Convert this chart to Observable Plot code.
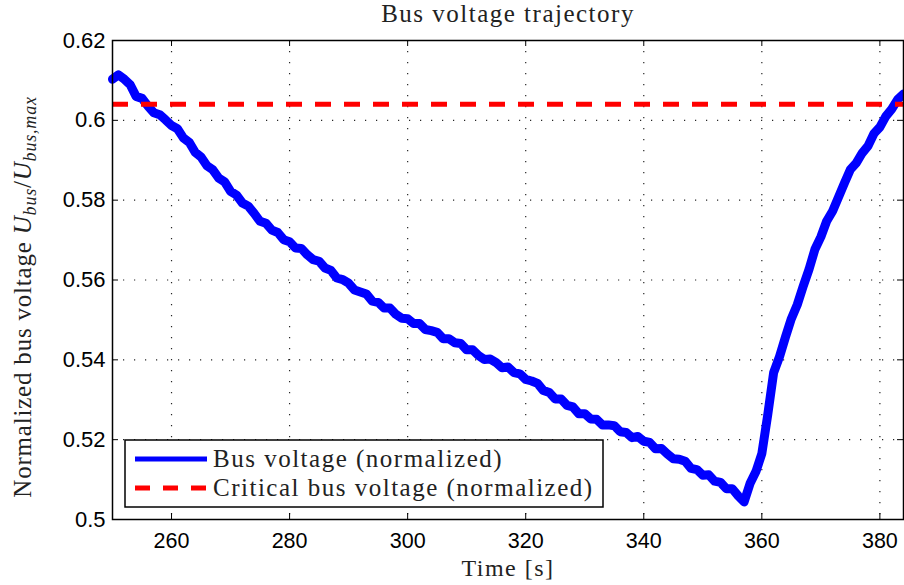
<!DOCTYPE html>
<html><head><meta charset="utf-8">
<script src="https://cdn.jsdelivr.net/npm/d3@7"></script>
<script src="https://cdn.jsdelivr.net/npm/@observablehq/plot@0.6"></script>
<style>html,body{margin:0;padding:0;background:#fff}svg{display:block}</style>
</head><body><div id="chart"></div>
<script>
const time = [250,251,252,253,254,255,256,257,258,259,260,261,262,263,264,265,266,267,268,269,
270,271,272,273,274,275,276,277,278,279,280,281,282,283,284,285,286,287,288,289,
290,291,292,293,294,295,296,297,298,299,300,301,302,303,304,305,306,307,308,309,
310,311,312,313,314,315,316,317,318,319,320,321,322,323,324,325,326,327,328,329,
330,331,332,333,334,335,336,337,338,339,340,341,342,343,344,345,346,347,348,349,
350,351,352,353,354,355,356,357,358,359,360,361,362,363,364,365,366,367,368,369,
370,371,372,373,374,375,376,377,378,379,380,381,382,383,384];
const voltage = [0.6103,0.6114,0.6103,0.6089,0.6060,0.6055,0.6036,0.6019,0.6014,0.6001,
0.5987,0.5979,0.5956,0.5945,0.5920,0.5908,0.5886,0.5876,0.5855,0.5846,
0.5822,0.5813,0.5793,0.5785,0.5767,0.5747,0.5742,0.5725,0.5719,0.5701,
0.5696,0.5680,0.5679,0.5663,0.5651,0.5647,0.5630,0.5624,0.5605,0.5601,
0.5592,0.5575,0.5570,0.5565,0.5547,0.5544,0.5530,0.5530,0.5514,0.5504,
0.5503,0.5491,0.5491,0.5476,0.5473,0.5469,0.5453,0.5453,0.5443,0.5441,
0.5425,0.5425,0.5411,0.5401,0.5402,0.5393,0.5380,0.5382,0.5368,0.5365,
0.5351,0.5347,0.5341,0.5323,0.5318,0.5302,0.5302,0.5286,0.5282,0.5265,
0.5265,0.5252,0.5251,0.5237,0.5237,0.5235,0.5220,0.5218,0.5205,0.5208,
0.5196,0.5193,0.5177,0.5178,0.5164,0.5152,0.5151,0.5146,0.5128,0.5125,
0.5111,0.5112,0.5096,0.5093,0.5077,0.5077,0.5059,0.5044,0.5090,0.5120,
0.5165,0.5262,0.5368,0.5408,0.5457,0.5503,0.5538,0.5584,0.5627,0.5677,
0.5708,0.5748,0.5773,0.5808,0.5843,0.5877,0.5893,0.5918,0.5936,0.5967,
0.5983,0.6010,0.6028,0.6052,0.6066];
const criticalVoltage = [0.604];
const xTicks = [260,280,300,320,340,360,380];
const yTicks = [0.5,0.52,0.54,0.56,0.58,0.6,0.62];
const yTickLabels = ["0.5","0.52","0.54","0.56","0.58","0.6","0.62"];
const titleText = "Bus voltage trajectory";
const xLabelText = "Time [s]";
const seriesNames = ["Bus voltage (normalized)","Critical bus voltage (normalized)"];
const seriesColors = ["#0000ff","#ff0000"];

const data = time.map((t,i)=>({t, v: voltage[i]}));
const W = 904, H = 585, mL = 112, mR = 1, mT = 40, mB = 66;
const fw = W - mL - mR, fh = H - mT - mB;
const serif = "'Liberation Serif', 'Times New Roman', serif";
const sans = "'Liberation Sans', Arial, Helvetica, sans-serif";
const grid = {stroke:"#000", strokeOpacity:0.85, strokeWidth:1.2, strokeDasharray:"1.2,9.8"};

const svg = Plot.plot({
  width: W, height: H,
  marginLeft: mL, marginRight: mR, marginTop: mT, marginBottom: mB,
  style: {fontFamily: sans, background: "#fff", color: "#000"},
  x: {domain: [250, 384], ticks: xTicks, label: null},
  y: {domain: [0.5, 0.62], ticks: yTicks, label: null},
  marks: [
    Plot.ruleX(xTicks, grid),
    Plot.ruleY(yTicks, grid),
    Plot.tickX(xTicks, {x: d => d, insetTop: fh - 6, stroke: "#000"}),
    Plot.tickX(xTicks, {x: d => d, insetBottom: fh - 6, stroke: "#000"}),
    Plot.tickY(yTicks, {y: d => d, insetRight: fw - 6, stroke: "#000"}),
    Plot.tickY(yTicks, {y: d => d, insetLeft: fw - 6, stroke: "#000"}),
    Plot.axisX({ticks: xTicks, tickSize: 0, tickPadding: 13, fontSize: 21.5, label: null}),
    Plot.axisY({ticks: yTicks, tickSize: 0, tickPadding: 7, fontSize: 22, label: null,
      tickFormat: d => yTickLabels[yTicks.findIndex(y => Math.abs(y - d) < 1e-9)]}),
    Plot.line(data, {x: "t", y: "v", stroke: seriesColors[0], strokeWidth: 9, strokeLinejoin: "round", strokeLinecap: "round"}),
    Plot.ruleY(criticalVoltage, {stroke: seriesColors[1], strokeWidth: 5, strokeDasharray: "16,13"}),
    Plot.frame({stroke: "#000", strokeWidth: 1.5}),
    Plot.text([titleText], {frameAnchor: "top", dy: -19, lineAnchor: "bottom", fontFamily: serif, fontSize: 25, fill: "#222"}),
    Plot.text([xLabelText], {frameAnchor: "bottom", dy: 56, lineAnchor: "bottom", fontFamily: serif, fontSize: 24, fill: "#222"})
  ]
});
document.getElementById("chart").appendChild(svg);

const s = d3.select(svg);
s.selectAll("g[aria-label='text'] text").style("letter-spacing", "1.5px");

// Y label with subscripts
const yl = s.append("text")
  .attr("transform", `translate(31,297) rotate(-90)`)
  .attr("text-anchor", "middle")
  .attr("font-family", serif).attr("font-size", 25).attr("fill", "#222")
  .style("letter-spacing", "0.8px");
yl.append("tspan").text("Normalized bus voltage ");
yl.append("tspan").attr("font-style", "italic").text("U");
yl.append("tspan").attr("font-style", "italic").attr("font-size", 18).attr("dy", 5).text("bus");
yl.append("tspan").attr("dy", -5).text("/");
yl.append("tspan").attr("font-style", "italic").text("U");
yl.append("tspan").attr("font-style", "italic").attr("font-size", 18).attr("dy", 5).text("bus,max");

// Legend
const lg = s.append("g");
lg.append("rect").attr("x", 125).attr("y", 440).attr("width", 478).attr("height", 67)
  .attr("fill", "#fff").attr("stroke", "#000").attr("stroke-width", 1.5);
const rowsY = [459, 488];
seriesNames.forEach((name, i) => {
  lg.append("line").attr("x1", 135).attr("x2", 207).attr("y1", rowsY[i]).attr("y2", rowsY[i])
    .attr("stroke", seriesColors[i]).attr("stroke-width", 5)
    .attr("stroke-dasharray", i === 0 ? null : "15,13");
  lg.append("text").attr("x", 213).attr("y", rowsY[i] + 8)
    .attr("text-anchor", "start")
    .attr("font-family", serif).attr("font-size", 25).attr("fill", "#222")
    .style("letter-spacing", "1.5px").text(name);
});
</script>
</body></html>
